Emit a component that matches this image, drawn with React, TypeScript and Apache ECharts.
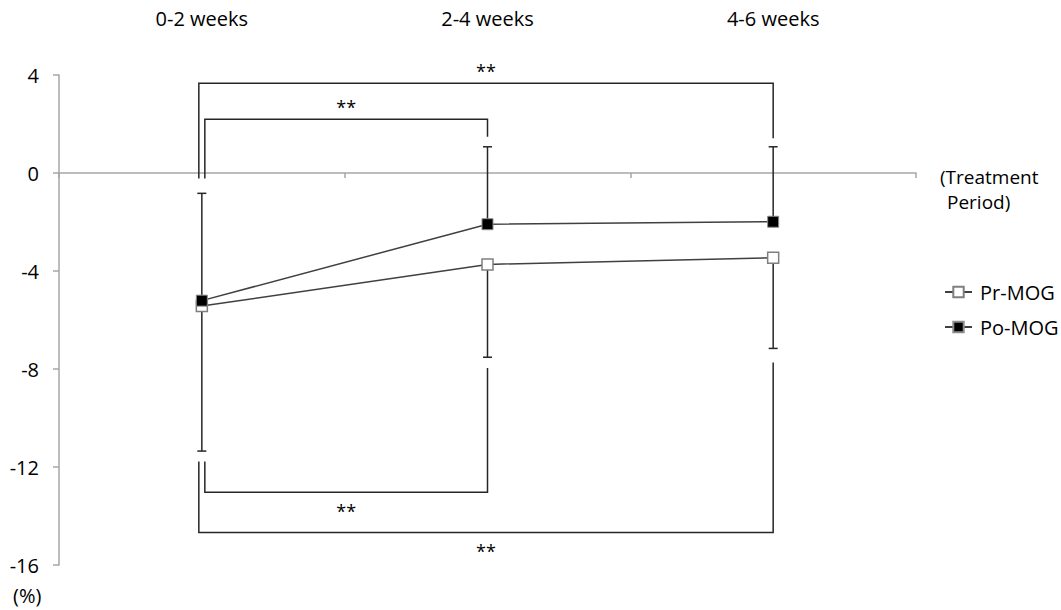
import React, { useEffect, useRef } from "react";
import * as echarts from "echarts";

const categories = ["0-2 weeks", "2-4 weeks", "4-6 weeks"];
const prMog = [-5.43, -3.73, -3.46];
const poMog = [-5.21, -2.09, -1.99];
const poUpper = [-0.83, 1.07, 1.07];
const prLower = [-11.35, -7.52, -7.16];
const yTicks = { min: -16, max: 4, interval: 4 };
// [fromCategory, toCategory, bracketLevel, fromEnd, toEnd]
const brackets = [
  [0, 2, 3.66, -0.22, 1.42],
  [0, 1, 2.19, -0.22, 1.48],
  [0, 1, -13.03, -11.78, -7.96],
  [0, 2, -14.67, -11.78, -7.73],
];
const sigLabel = "**";
const xAxisNameLines = ["(Treatment", "Period)"];

const FONT = "'Open Sans', 'Noto Sans', sans-serif";

export default function App() {
  const ref = useRef<HTMLDivElement>(null);
  useEffect(() => {
    if (!ref.current) return;
    const chart = echarts.init(ref.current, undefined, { renderer: "svg" });

    const errData = [
      ...poMog.map((v, i) => [i, v, poUpper[i]]),
      ...prMog.map((v, i) => [i, v, prLower[i]]),
    ];

    chart.setOption({
      animation: false,
      textStyle: { fontFamily: FONT },
      grid: { left: 59, right: 145, top: 75, bottom: 45 },
      legend: {
        orient: "vertical",
        left: 939,
        top: 276,
        itemWidth: 27,
        itemHeight: 13,
        itemGap: 13,
        textStyle: { fontSize: 20, color: "#000", fontFamily: FONT, padding: [0, 0, 0, 3], lineHeight: 22 },
        data: ["Pr-MOG", "Po-MOG"],
      },
      xAxis: [
        {
          type: "category",
          data: categories,
          position: "bottom",
          axisLine: { onZero: true, lineStyle: { color: "#a6a6a6", width: 1.5 } },
          axisTick: { show: true, length: 5, lineStyle: { color: "#a6a6a6", width: 1.5 } },
          axisLabel: { show: false },
          splitLine: { show: false },
        },
        {
          type: "category",
          data: categories,
          position: "top",
          axisLine: { show: false, onZero: false },
          axisTick: { show: false },
          axisLabel: { show: true, fontSize: 20, color: "#000", margin: 47, fontFamily: FONT },
          splitLine: { show: false },
        },
      ],
      yAxis: {
        type: "value",
        min: yTicks.min,
        max: yTicks.max,
        interval: yTicks.interval,
        axisLine: { show: true, lineStyle: { color: "#a6a6a6", width: 1.5 } },
        axisTick: { show: true, length: 6, lineStyle: { color: "#a6a6a6", width: 1.5 } },
        axisLabel: { fontSize: 20, color: "#000", margin: 20, fontFamily: FONT },
        splitLine: { show: false },
      },
      graphic: [
        {
          type: "text",
          x: 940,
          y: 177,
          style: { text: xAxisNameLines[0], font: `19px ${FONT}`, fill: "#000", verticalAlign: "middle" },
        },
        {
          type: "text",
          x: 947,
          y: 202,
          style: { text: xAxisNameLines[1], font: `19px ${FONT}`, fill: "#000", verticalAlign: "middle" },
        },
        {
          type: "text",
          left: 13,
          top: 585,
          style: { text: "(%)", font: `20px ${FONT}`, fill: "#000" },
        },
      ],
      series: [
        {
          type: "custom",
          name: "errorbars",
          z: 1,
          silent: true,
          data: errData,
          encode: { x: 0, y: [1, 2] },
          renderItem: (params: any, api: any) => {
            const x = api.value(0);
            const p0 = api.coord([x, api.value(1)]);
            const p1 = api.coord([x, api.value(2)]);
            const cap = 4.5;
            return {
              type: "group",
              children: [
                { type: "line", shape: { x1: p0[0], y1: p0[1], x2: p1[0], y2: p1[1] }, style: { stroke: "#262626", lineWidth: 1.5 } },
                { type: "line", shape: { x1: p1[0] - cap, y1: p1[1], x2: p1[0] + cap, y2: p1[1] }, style: { stroke: "#262626", lineWidth: 1.5 } },
              ],
            };
          },
        },
        {
          type: "custom",
          name: "brackets",
          z: 2,
          silent: true,
          clip: false,
          data: brackets,
          encode: { x: [0, 1], y: [2, 3, 4] },
          renderItem: (params: any, api: any) => {
            const from = api.value(0);
            const to = api.value(1);
            const level = api.value(2);
            const fromEnd = api.value(3);
            const toEnd = api.value(4);
            const inset = to - from > 1 ? -3 : 3;
            const a = api.coord([from, fromEnd]);
            const b = api.coord([from, level]);
            const c = api.coord([to, level]);
            const d = api.coord([to, toEnd]);
            const isTop = level > fromEnd;
            const midX = (a[0] + inset + c[0]) / 2;
            const labelY = b[1] + (isTop ? -12 : 19);
            return {
              type: "group",
              children: [
                {
                  type: "polyline",
                  shape: { points: [[a[0] + inset, a[1]], [b[0] + inset, b[1]], [c[0], c[1]], [d[0], d[1]]] },
                  style: { stroke: "#262626", lineWidth: 1.5, fill: null },
                },
                {
                  type: "text",
                  x: midX,
                  y: labelY,
                  style: { text: sigLabel, font: `18px ${FONT}`, fill: "#000", align: "center", verticalAlign: "middle" },
                },
              ],
            };
          },
        },
        {
          type: "line",
          name: "Pr-MOG",
          z: 3,
          data: prMog,
          symbol: "rect",
          symbolSize: 11,
          lineStyle: { color: "#404040", width: 1.5 },
          itemStyle: { color: "#ffffff", borderColor: "#7f7f7f", borderWidth: 1.5 },
        },
        {
          type: "line",
          name: "Po-MOG",
          z: 4,
          data: poMog,
          symbol: "rect",
          symbolSize: 11,
          lineStyle: { color: "#404040", width: 1.5 },
          itemStyle: { color: "#000000", borderColor: "#8c8c8c", borderWidth: 1 },
        },
      ],
    });
    return () => chart.dispose();
  }, []);
  return <div ref={ref} style={{ position: "absolute", left: 0, top: 0, width: 1061, height: 610 }} />;
}
